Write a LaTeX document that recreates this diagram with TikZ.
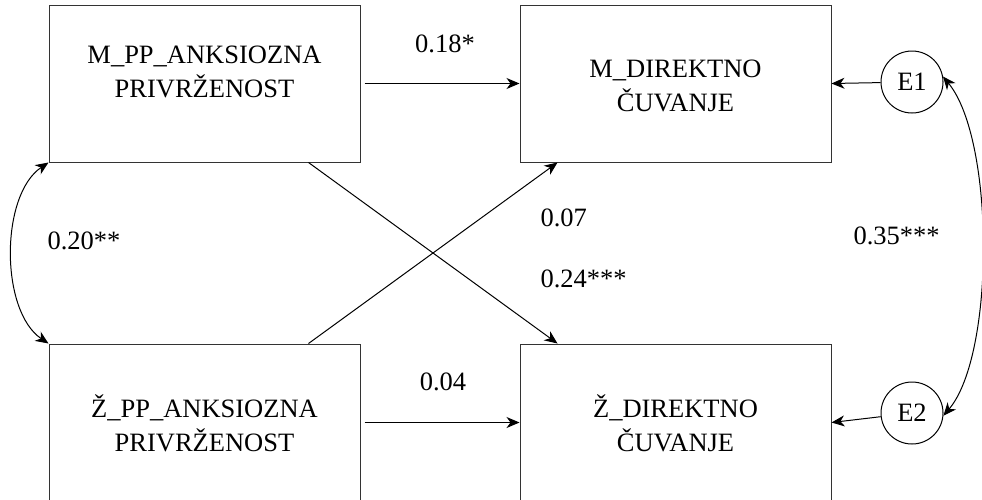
\documentclass[tikz,border=0pt]{standalone}
\usepackage{fontspec}
\setmainfont{Liberation Serif}
\usetikzlibrary{arrows.meta}
\begin{document}
\begin{tikzpicture}[x=1pt, y=-1pt, line width=1pt,
    >={Stealth[length=13pt,width=11pt,inset=4pt]},
    box/.style={draw=black!80, minimum width=311pt, minimum height=157pt, inner sep=0pt},
    err/.style={draw, circle, minimum size=62pt, inner sep=0pt, font=\fontsize{26.5}{32}\selectfont},
    txt/.style={align=center, inner sep=0pt, font=\fontsize{26.5}{34}\selectfont},
    coef/.style={inner sep=0pt, font=\fontsize{26.5}{32}\selectfont}]
    \useasboundingbox (0,0) rectangle (982,499);
    \node[box] (mpp) at (204.5,83.5) {};
    \node[box] (mdir) at (675.5,83.5) {};
    \node[box] (zpp) at (204.5,422.5) {};
    \node[box] (zdir) at (675.5,422.5) {};
    \node[txt] (mpptxt) at (204.5,72) {M\_PP\_ANKSIOZNA\\PRIVRŽENOST};
    \node[txt] (mdirtxt) at (675.5,86) {M\_DIREKTNO\\ČUVANJE};
    \node[txt] (zpptxt) at (204.5,423) {Ž\_PP\_ANKSIOZNA\\PRIVRŽENOST};
    \node[txt] (zdirtxt) at (675.5,423) {Ž\_DIREKTNO\\ČUVANJE};
    \node[err] (e1) at (912,82) {E1};
    \node[err] (e2) at (912,413) {E2};
    \draw[->] ([xshift=4pt]mpp.east) -- (mdir.west);
    \draw[->] ([xshift=4pt]zpp.east) -- (zdir.west);
    \draw[->] ([xshift=-52pt]mpp.south east) -- ([xshift=38pt]zdir.north west);
    \draw[->] ([xshift=-52pt]zpp.north east) -- ([xshift=38pt]mdir.south west);
    \draw[->] (e1) -- (mdir.east);
    \draw[->] (e2) -- (zdir.east);
    \draw[<->] (mpp.south west) .. controls (0,195) and (0,311) .. (zpp.north west);
    \draw[<->] (e1.10) .. controls (995,140) and (995,355) .. (e2.-5);
    \node[coef] (b1) at (445,44) {0.18*};
    \node[coef, anchor=west] (r1) at (47,241) {0.20**};
    \node[coef, anchor=west] (b3) at (540,218) {0.07};
    \node[coef, anchor=west] (b2) at (540,279) {0.24***};
    \node[coef, anchor=west] (r2) at (853,236) {0.35***};
    \node[coef] (b4) at (443,382) {0.04};
\end{tikzpicture}
\end{document}
